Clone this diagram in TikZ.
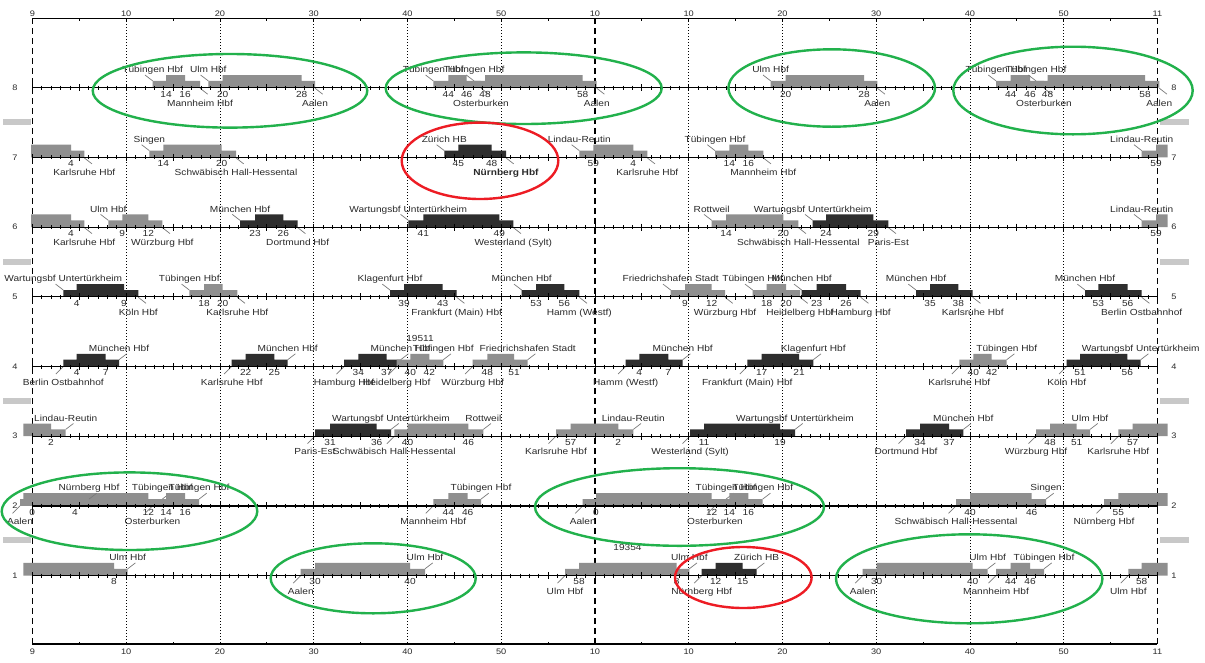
\documentclass[tikz,border=0pt]{standalone}
\usepackage{fontspec}
\setmainfont{Liberation Sans}[FakeStretch=1.15]
\definecolor{barG}{HTML}{8F8F8F}
\definecolor{barK}{HTML}{2E2E2E}
\definecolor{ellG}{HTML}{22B14C}
\definecolor{ellR}{HTML}{ED1C24}
\definecolor{sideG}{HTML}{C8C8C8}
\definecolor{txt}{HTML}{2A2A2A}
\definecolor{leadc}{HTML}{7A7A7A}
\tikzset{
 lab/.style={anchor=base,inner sep=0pt,font=\fontsize{8.8}{10}\selectfont,text=txt},
 axl/.style={inner sep=0pt,font=\fontsize{8}{9}\selectfont,text=txt},
 lead/.style={draw=leadc,line width=0.7pt},
 trk/.style={line width=1.2pt,draw=black},
 tck/.style={line width=0.7pt,draw=black},
 grd/.style={line width=0.8pt,dash pattern=on 1pt off 2pt},
 hourln/.style={line width=1.2pt,dash pattern=on 6pt off 4pt},
 ellg/.style={draw=ellG,line width=2.4pt},
 ellr/.style={draw=ellR,line width=2.4pt},
}
\newcommand\Yr{0}
\newcommand\barLo{6.8}
\newcommand\barHi{12.7}
\newcommand\barshape[5]{\fill[#5] (#1,\Yr) -- (#1,\Yr-\barLo) -- (#2,\Yr-\barLo) -- (#2,\Yr-\barHi) -- (#3,\Yr-\barHi) -- (#3,\Yr-\barLo) -- (#4,\Yr-\barLo) -- (#4,\Yr) -- cycle;}
\newcommand\trNums[4]{%
  \if\relax\detokenize{#3}\relax\else \node[lab] at (#1,\Yr+9.3) {#3};\fi
  \if\relax\detokenize{#4}\relax\else \node[lab] at (#2,\Yr+9.3) {#4};\fi}
% down: arrival label above-left, departure label below-right
\newcommand\trD[9]{%
  \barshape{#1}{#2}{#3}{#4}{#5}%
  \if\relax\detokenize{#6}\relax\else
    \draw[lead] (#1-7.7,\Yr-12.7) -- (#1,\Yr-\barLo);
    \node[lab] at (#1,\Yr-15) {#6};\fi
  \if\relax\detokenize{#7}\relax\else
    \draw[lead] (#4,\Yr+0.5) -- (#4+7.7,\Yr+6.5);
    \node[lab] at (#4,\Yr+18.5) {#7};\fi
  \trNums{#2}{#3}{#8}{#9}}
% up: arrival label below-left, departure label above-right
\newcommand\trU[9]{%
  \barshape{#1}{#2}{#3}{#4}{#5}%
  \if\relax\detokenize{#6}\relax\else
    \draw[lead] (#1-7.5,\Yr+7.5) -- (#1,\Yr);
    \node[lab] at (#1,\Yr+18.5) {#6};\fi
  \if\relax\detokenize{#7}\relax\else
    \draw[lead] (#4,\Yr-\barLo) -- (#4+7.7,\Yr-12.7);
    \node[lab] at (#4,\Yr-15) {#7};\fi
  \trNums{#2}{#3}{#8}{#9}}
\begin{document}
\begin{tikzpicture}[x=1pt,y=-1pt]
\useasboundingbox (0,0) rectangle (1205,662);
\fill[white] (0,0) rectangle (1205,662);
% grid
\foreach \k in {1,2,3,4,5,7,8,9,10,11} \draw[grd] ({32.4+93.75*\k},18.3) -- ({32.4+93.75*\k},644);
\foreach \k in {0,6,12} \draw[hourln] ({32.4+93.75*\k},18.3) -- ({32.4+93.75*\k},644);
\draw[trk] (32.4,18.3) -- (1157.4,18.3);
\draw[trk] (32.4,644) -- (1157.4,644);
\foreach \m in {0,5,...,120} {
  \draw[tck] ({32.4+9.375*\m},18.3) -- ++(0,2.5);
  \draw[tck] ({32.4+9.375*\m},644) -- ++(0,-2.5);
}
\foreach \k/\s in {0/9,1/10,2/20,3/30,4/40,5/50,6/10,7/10,8/20,9/30,10/40,11/50,12/11} {
  \node[axl,anchor=base] (top\k) at ({32.4+93.75*\k},16.7) {\s};
  \node[axl,anchor=base] (bot\k) at ({32.4+93.75*\k},654.5) {\s};
}
\foreach \yy in {122,261.8,401,540} {
  \fill[sideG] (2.7,\yy-3) rectangle (31,\yy+3);
  \fill[sideG] (1159.5,\yy-3) rectangle (1189,\yy+3);
}
% ---- row 8
\renewcommand\Yr{87.7}
\trD{152.7}{166}{185}{200}{barG}{Tübingen Hbf}{Mannheim Hbf}{14}{16}
\trD{208.3}{222.7}{301.7}{315}{barG}{Ulm Hbf}{Aalen}{20}{28}
\trD{433.3}{448.3}{466.7}{481}{barG}{Tübingen Hbf}{Osterburken}{44}{46}
\trD{474}{485}{582.7}{596.7}{barG}{Tübingen Hbf}{Aalen}{48}{58}
\trD{770.7}{785.7}{864}{877.3}{barG}{Ulm Hbf}{Aalen}{20}{28}
\trD{996}{1010.7}{1030}{1044}{barG}{Tübingen Hbf}{Osterburken}{44}{46}
\trD{1036}{1047.5}{1145}{1159.3}{barG}{Tübingen Hbf}{Aalen}{48}{58}
% ---- row 7
\renewcommand\Yr{157.4}
\trD{31}{31}{71}{84.3}{barG}{}{Karlsruhe Hbf}{}{4}
\trD{149.3}{163.3}{221.7}{236}{barG}{Singen}{Schwäbisch Hall-Hessental}{14}{20}
\trD{444.3}{458.3}{491.7}{506}{barK}{Zürich HB}{\bfseries Nürnberg Hbf}{45}{48}
\trD{579.3}{593.3}{633.3}{647.3}{barG}{Lindau-Reutin}{Karlsruhe Hbf}{59}{4}
\trD{715}{729.3}{748.3}{763.3}{barG}{Tübingen Hbf}{Mannheim Hbf}{14}{16}
\trD{1141.7}{1156}{1167.7}{1167.7}{barG}{Lindau-Reutin}{}{59}{}
% ---- row 6
\renewcommand\Yr{227.1}
\trD{31}{31}{71}{84.3}{barG}{}{Karlsruhe Hbf}{}{4}
\trD{108.3}{122.3}{148.3}{162.3}{barG}{Ulm Hbf}{Würzburg Hbf}{9}{12}
\trD{240}{255}{283.3}{297.7}{barK}{München Hbf}{Dortmund Hbf}{23}{26}
\trD{408.3}{423.3}{499.3}{513.3}{barK}{Wartungsbf Untertürkheim}{Westerland (Sylt)}{41}{49}
\trD{711.7}{726}{783.3}{798.3}{barG}{Rottweil}{Schwäbisch Hall-Hessental}{14}{20}
\trD{812.7}{826}{873.3}{888.3}{barK}{Wartungsbf Untertürkheim}{Paris-Est}{24}{29}
\trD{1141.7}{1156}{1167.7}{1167.7}{barG}{Lindau-Reutin}{}{59}{}
% ---- row 5
\renewcommand\Yr{296.8}
\trD{63.3}{76.7}{124}{138.3}{barK}{Wartungsbf Untertürkheim}{Köln Hbf}{4}{9}
\trD{189.3}{204}{222.7}{237.3}{barG}{Tübingen Hbf}{Karlsruhe Hbf}{18}{20}
\trD{390}{404}{442.7}{456.7}{barK}{Klagenfurt Hbf}{Frankfurt (Main) Hbf}{39}{43}
\trD{521.7}{536}{564.3}{579.3}{barK}{München Hbf}{Hamm (Westf)}{53}{56}
\trD{670.7}{685}{711.7}{725}{barG}{Friedrichshafen Stadt}{Würzburg Hbf}{9}{12}
\trD{752.7}{766.7}{786}{800}{barG}{Tübingen Hbf}{Heidelberg Hbf}{18}{20}
\trD{801.7}{816.7}{846}{860.7}{barK}{München Hbf}{Hamburg Hbf}{23}{26}
\trD{916}{930}{958.3}{972.7}{barK}{München Hbf}{Karlsruhe Hbf}{35}{38}
\trD{1085}{1098.3}{1127.7}{1141.7}{barK}{München Hbf}{Berlin Ostbahnhof}{53}{56}
% ---- row 4
\renewcommand\Yr{366.5}
\trU{63.3}{76.7}{105.7}{119}{barK}{Berlin Ostbahnhof}{München Hbf}{4}{7}
\trU{231.7}{245.7}{274.3}{287.7}{barK}{Karlsruhe Hbf}{München Hbf}{22}{25}
\trU{344}{358.3}{386.7}{400.7}{barK}{Hamburg Hbf}{München Hbf}{34}{37}
\trU{396.7}{410.3}{429.3}{443.3}{barG}{Heidelberg Hbf}{Tübingen Hbf}{40}{42}
\trU{472.7}{487.3}{514}{527.7}{barG}{Würzburg Hbf}{Friedrichshafen Stadt}{48}{51}
\trU{625.7}{639.3}{668.3}{682.7}{barK}{Hamm (Westf)}{München Hbf}{4}{7}
\trU{747.3}{761.7}{799}{813.3}{barK}{Frankfurt (Main) Hbf}{Klagenfurt Hbf}{17}{21}
\trU{959.3}{973.3}{991.7}{1006.7}{barG}{Karlsruhe Hbf}{Tübingen Hbf}{40}{42}
\trU{1066.7}{1080}{1127.3}{1140.7}{barK}{Köln Hbf}{Wartungsbf Untertürkheim}{51}{56}
\node[lab] (z19511) at (420,341.6) {19511};
% ---- row 3
\renewcommand\Yr{436.2}
\trU{23.3}{23.3}{51}{65.7}{barG}{}{Lindau-Reutin}{}{2}
\trU{315}{330}{376.7}{391}{barK}{Paris-Est}{Wartungsbf Untertürkheim}{31}{36}
\trU{394.3}{407.5}{468.3}{483.3}{barG}{Schwäbisch Hall-Hessental}{Rottweil}{40}{46}
\trU{556}{570.7}{618.3}{633.3}{barG}{Karlsruhe Hbf}{Lindau-Reutin}{57}{2}
\trU{690}{704}{780}{795}{barK}{Westerland (Sylt)}{Wartungsbf Untertürkheim}{11}{19}
\trU{906}{920}{949}{963.3}{barK}{Dortmund Hbf}{München Hbf}{34}{37}
\trU{1036}{1050}{1076.7}{1090}{barG}{Würzburg Hbf}{Ulm Hbf}{48}{51}
\trU{1118.3}{1132.7}{1167.7}{1167.7}{barG}{Karlsruhe Hbf}{}{57}{}
% ---- row 2
\renewcommand\Yr{505.9}
\trU{20}{32.3}{148.3}{162.3}{barG}{Aalen}{Tübingen Hbf}{0}{12}
\trU{23.3}{23.3}{75}{89}{barG}{}{Nürnberg Hbf}{}{4}
\trU{152.5}{166}{185}{199}{barG}{Osterburken}{Tübingen Hbf}{14}{16}
\trU{433.3}{448.3}{467.7}{481}{barG}{Mannheim Hbf}{Tübingen Hbf}{44}{46}
\trU{582.7}{596}{711.7}{726}{barG}{Aalen}{Tübingen Hbf}{0}{12}
\trU{715}{729.3}{748.3}{762.7}{barG}{Osterburken}{Tübingen Hbf}{14}{16}
\trU{956}{970}{1031.7}{1046}{barG}{Schwäbisch Hall-Hessental}{Singen}{40}{46}
\trU{1104}{1118.3}{1167.7}{1167.7}{barG}{Nürnberg Hbf}{}{55}{}
% ---- row 1
\renewcommand\Yr{575.6}
\trU{23.3}{23.3}{114}{127.7}{barG}{}{Ulm Hbf}{}{8}
\trU{300.7}{315}{410}{425}{barG}{Aalen}{Ulm Hbf}{30}{40}
\trU{565}{579}{676.7}{689.3}{barG}{Ulm Hbf}{Ulm Hbf}{58}{8}
\trU{701.7}{715.7}{742.7}{756.7}{barK}{Nürnberg Hbf}{Zürich HB}{12}{15}
\trU{862.7}{876.7}{972.7}{987.7}{barG}{Aalen}{Ulm Hbf}{30}{40}
\trU{996}{1010.7}{1030}{1044}{barG}{Mannheim Hbf}{Tübingen Hbf}{44}{46}
\trU{1128.3}{1141.7}{1167.7}{1167.7}{barG}{Ulm Hbf}{}{58}{}
\node[lab] (z19354) at (627.5,550) {19354};
% track lines
\foreach \yy/\nn in {87.7/8,157.4/7,227.1/6,296.8/5,366.5/4,436.2/3,505.9/2,575.6/1} {
  \draw[trk] (32.4,\yy) -- (1157.4,\yy);
  \foreach \m in {0,...,120} {
    \pgfmathsetmacro\tl{ifthenelse(mod(\m,5)==0,3.5,2)}
    \draw[tck] ({32.4+9.375*\m},\yy-\tl) -- ({32.4+9.375*\m},\yy+\tl);
  }
  \node[axl] (L\nn) at (15,\yy) {\nn};
  \node[axl] (R\nn) at (1174,\yy) {\nn};
}
% ellipses
\draw[ellg] (230,90.8) ellipse [x radius=137.3pt, y radius=36.8pt];
\draw[ellg] (523.7,88.2) ellipse [x radius=138pt, y radius=35.8pt];
\draw[ellg] (831.7,88) ellipse [x radius=103.3pt, y radius=38.7pt];
\draw[ellg] (1073,90.5) ellipse [x radius=119.7pt, y radius=43.8pt];
\draw[ellr] (480,160.8) ellipse [x radius=78.3pt, y radius=38.2pt];
\draw[ellg] (129.5,511.2) ellipse [x radius=127.8pt, y radius=38.8pt];
\draw[ellg] (679.5,507) ellipse [x radius=144.5pt, y radius=38.8pt];
\draw[ellg] (373.2,578.3) ellipse [x radius=102.5pt, y radius=35pt];
\draw[ellr] (743.3,577.5) ellipse [x radius=68.3pt, y radius=30.5pt];
\draw[ellg] (969.2,578.8) ellipse [x radius=133.2pt, y radius=44.5pt];
\end{tikzpicture}
\end{document}
